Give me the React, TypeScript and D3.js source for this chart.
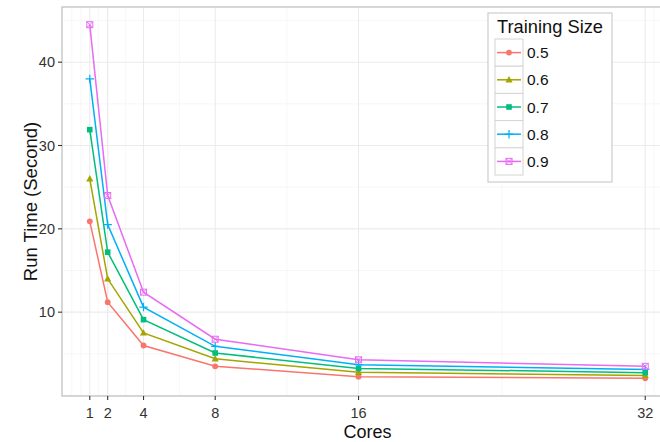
import React from 'react';
import { scaleLinear, line, extent } from 'd3';

// data
const cores = [1, 2, 4, 8, 16, 32];
const sizes = ['0.5', '0.6', '0.7', '0.8', '0.9'];
const time05 = [20.9, 11.2, 6.0, 3.5, 2.26, 2.06];
const time06 = [26.0, 14.0, 7.5, 4.4, 2.78, 2.4];
const time07 = [31.9, 17.2, 9.1, 5.1, 3.25, 2.74];
const time08 = [38.0, 20.5, 10.6, 5.9, 3.7, 3.13];
const time09 = [44.5, 24.0, 12.4, 6.75, 4.28, 3.5];
const yTicks = [10, 20, 30, 40];
const colors = ['#F8766D', '#A3A500', '#00BF7D', '#00B0F6', '#E76BF3'];
const shapes = ['circle', 'triangle', 'square', 'plus', 'boxx'];

const seriesValues = [time05, time06, time07, time08, time09];
const font = '"Liberation Sans", Arial, Helvetica, sans-serif';

// ggplot-ish 5% expansion
const expand = (lo: number, hi: number) => {
  const d = (hi - lo) * 0.05;
  return [lo - d, hi + d];
};

// ggplot minor breaks: midpoints, plus one step outside each end
const minorBreaks = (b: number[], lim: number[]) => {
  const bd = b[1] - b[0];
  let bb = b.slice();
  if (lim[0] < bb[0]) bb = [bb[0] - bd, ...bb];
  if (lim[1] > bb[bb.length - 1]) bb = [...bb, bb[bb.length - 1] + bd];
  const out: number[] = [];
  for (let i = 0; i < bb.length - 1; i++) out.push(bb[i], (bb[i] + bb[i + 1]) / 2);
  out.push(bb[bb.length - 1]);
  return out.filter((v) => !b.includes(v));
};

const Marker = ({ shape, x, y, color }: any) => {
  if (shape === 'circle') return <circle cx={x} cy={y} r={2.9} fill={color} />;
  if (shape === 'triangle')
    return <path d={`M${x},${y - 3.8}L${x + 3.6},${y + 2.6}L${x - 3.6},${y + 2.6}Z`} fill={color} />;
  if (shape === 'square') return <rect x={x - 2.8} y={y - 2.8} width={5.6} height={5.6} fill={color} />;
  if (shape === 'plus')
    return (
      <path d={`M${x - 4.2},${y}H${x + 4.2}M${x},${y - 4.2}V${y + 4.2}`} stroke={color} strokeWidth={1.2} fill="none" />
    );
  return (
    <g stroke={color} strokeWidth={1} fill="none">
      <rect x={x - 3} y={y - 3} width={6} height={6} />
      <path d={`M${x - 3},${y - 3}L${x + 3},${y + 3}M${x + 3},${y - 3}L${x - 3},${y + 3}`} />
    </g>
  );
};

export default function App() {
  const W = 660;
  const H = 442;
  const left = 62;
  const right = 673;
  const top = 7;
  const bottom = 396;

  const xLim = expand(...(extent(cores) as [number, number]));
  const allY = seriesValues.flat();
  const yLim = expand(...(extent(allY) as [number, number]));

  const x = scaleLinear().domain(xLim).range([left, right]);
  const y = scaleLinear().domain(yLim).range([bottom, top]);

  const xMinor = minorBreaks(cores, xLim);
  const yMinor = minorBreaks(yTicks, yLim);

  const path = line<number>()
    .x((_, i) => x(cores[i]))
    .y((d) => y(d));

  // legend layout
  const lgX = 488;
  const lgY = 13;
  const keyX = 495;
  const keyY = 39;
  const keyW = 28;
  const keyH = 27.2;

  return (
    <div style={{ position: 'fixed', left: 0, top: 0 }}>
      <svg width={W} height={H} style={{ display: 'block', background: '#fff' }} fontFamily={font}>
        <rect x={0} y={0} width={W} height={H} fill="#fff" />
        <clipPath id="panel">
          <rect x={left} y={top} width={right - left} height={bottom - top} />
        </clipPath>
        <g clipPath="url(#panel)">
          {xMinor.map((v) => (
            <line key={'xm' + v} x1={x(v)} x2={x(v)} y1={top} y2={bottom} stroke="#f2f2f2" strokeWidth={0.6} />
          ))}
          {yMinor.map((v) => (
            <line key={'ym' + v} x1={left} x2={right} y1={y(v)} y2={y(v)} stroke="#f2f2f2" strokeWidth={0.6} />
          ))}
          {cores.map((v) => (
            <line key={'x' + v} x1={x(v)} x2={x(v)} y1={top} y2={bottom} stroke="#ebebeb" strokeWidth={1.1} />
          ))}
          {yTicks.map((v) => (
            <line key={'y' + v} x1={left} x2={right} y1={y(v)} y2={y(v)} stroke="#ebebeb" strokeWidth={1.1} />
          ))}
          {seriesValues.map((s, i) => (
            <path key={'l' + i} d={path(s) || ''} fill="none" stroke={colors[i]} strokeWidth={1.5} />
          ))}
          {seriesValues.map((s, i) =>
            s.map((v, j) => <Marker key={'p' + i + '-' + j} shape={shapes[i]} x={x(cores[j])} y={y(v)} color={colors[i]} />)
          )}
        </g>
        <rect x={left} y={top} width={right - left} height={bottom - top} fill="none" stroke="#bdbdbd" strokeWidth={1.2} />

        {/* axes */}
        {yTicks.map((v) => (
          <g key={'yt' + v}>
            <line x1={left - 4} x2={left} y1={y(v)} y2={y(v)} stroke="#333" strokeWidth={1.1} />
            <text x={left - 7} y={y(v) + 5} textAnchor="end" fontSize={14.5} fill="#333">
              {v}
            </text>
          </g>
        ))}
        {cores.map((v) => (
          <g key={'xt' + v}>
            <line x1={x(v)} x2={x(v)} y1={bottom} y2={bottom + 4} stroke="#333" strokeWidth={1.1} />
            <text x={x(v)} y={418} textAnchor="middle" fontSize={14.5} fill="#333">
              {v}
            </text>
          </g>
        ))}
        <text x={(left + right) / 2} y={438} textAnchor="middle" fontSize={18} fill="#111">
          Cores
        </text>
        <text
          transform={`translate(37,${(top + bottom) / 2}) rotate(-90)`}
          textAnchor="middle"
          fontSize={18.5}
          fill="#111"
        >
          Run Time (Second)
        </text>

        {/* legend */}
        <rect x={lgX} y={lgY} width={124} height={169} fill="#fff" stroke="#c8c8c8" strokeWidth={1.1} />
        <text x={497} y={33} fontSize={18.3} fill="#111">
          Training Size
        </text>
        {sizes.map((s, i) => {
          const cy = keyY + i * keyH + keyH / 2;
          return (
            <g key={'lg' + s}>
              <rect x={keyX} y={keyY + i * keyH} width={keyW} height={keyH} fill="#fff" stroke="#d4d4d4" strokeWidth={1} />
              <line x1={keyX + 2} x2={keyX + keyW - 2} y1={cy} y2={cy} stroke={colors[i]} strokeWidth={1.5} />
              <Marker shape={shapes[i]} x={keyX + keyW / 2} y={cy} color={colors[i]} />
              <text x={527} y={cy + 5.5} fontSize={15.5} fill="#111">
                {s}
              </text>
            </g>
          );
        })}
      </svg>
    </div>
  );
}
